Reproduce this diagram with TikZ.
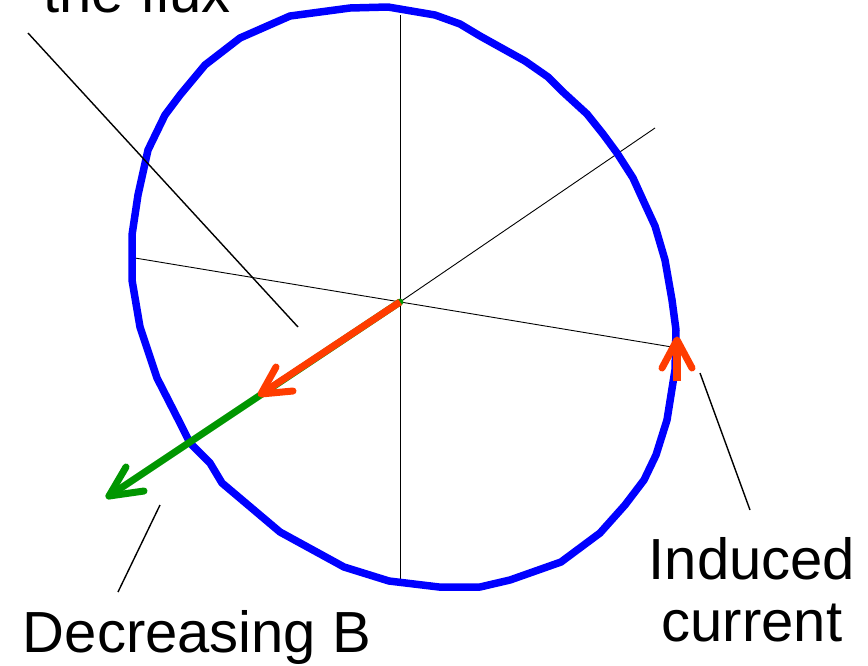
\documentclass[tikz,border=0pt]{standalone}
\usepackage{fontspec}
\setmainfont{Liberation Sans}
\usetikzlibrary{calc}
\definecolor{loopblue}{RGB}{0,0,255}
\definecolor{flowred}{RGB}{255,60,0}
\definecolor{fieldgreen}{RGB}{0,150,0}
\begin{document}
\begin{tikzpicture}[x=1pt,y=-1pt,
  spoke/.style={black,line width=0.9pt},
  pointer/.style={black,line width=1.4pt},
  loopline/.style={loopblue,line width=7.5pt,line join=round},
  arrowline/.style={line width=7pt,line cap=round,line join=round},
  lbl/.style={inner sep=0pt,font=\fontsize{58}{63}\selectfont}]
\useasboundingbox[fill=white] (0,0) rectangle (868,665);
% spokes
\coordinate (c) at (400,302);
\coordinate (vtop) at (400,15);
\coordinate (vbot) at (400,580);
\coordinate (hl) at (135,258);
\coordinate (hr) at (678,348);
\coordinate (dur) at (655,128);
\draw[spoke] (vtop) -- (vbot);
\draw[spoke] (hl) -- (hr);
\draw[spoke] (c) -- (dur);
% loop
\draw[loopline] (350,8) -- (388,7) -- (435,15) -- (460,24) -- (480,36) -- (525,61)
  -- (548,77) -- (563,92) -- (587,114) -- (603,134) -- (617,153) -- (633,178)
  -- (643,200) -- (655,226) -- (665,260) -- (672,300) -- (676,330) -- (675,370)
  -- (667,420) -- (656,455) -- (644,480) -- (625,505) -- (600,533) -- (561,562)
  -- (510,580) -- (480,587) -- (439,587) -- (389,581) -- (344,567) -- (280,532)
  -- (222,483) -- (210,463) -- (190,443) -- (180,423) -- (157,378) -- (140,327)
  -- (132,280) -- (132,235) -- (138,195) -- (148,150) -- (165,115) -- (180,95)
  -- (205,65) -- (240,38) -- (290,16) -- cycle;
% field arrow (green) and flux arrow (red)
\coordinate (gt) at (109,496);
\coordinate (rt) at (261,394);
\draw[arrowline,fieldgreen] (c) -- (gt);
\draw[arrowline,fieldgreen] ($(gt)+(17,-29)$) -- (gt) -- ($(gt)+(35,-5)$);
\draw[arrowline,flowred,line cap=butt] (c) -- (rt);
\draw[arrowline,flowred] ($(rt)+(15,-27)$) -- (rt) -- ($(rt)+(32,-3)$);
% induced current arrow
\coordinate (it) at (677,340);
\coordinate (ib) at (677,381);
\draw[arrowline,flowred,line cap=butt,line width=8pt] (ib) -- (it);
\draw[arrowline,flowred] ($(it)+(-15,28)$) -- (it) -- ($(it)+(15,28)$);
% labels and pointers
\node[lbl,anchor=base] (flux) at (137,12) {the flux};
\coordinate (fp1) at (28,33);
\coordinate (fp2) at (298,327);
\draw[pointer] (fp1) -- (fp2);
\node[lbl,anchor=base] (decB) at (197,652) {Decreasing B};
\coordinate (dp1) at (160,505);
\coordinate (dp2) at (118,592);
\draw[pointer] (dp1) -- (dp2);
\node[lbl,anchor=base] (ind) at (752,579) {Induced};
\node[lbl,anchor=base] (cur) at (752,641) {current};
\coordinate (ip1) at (700,373);
\coordinate (ip2) at (750,510);
\draw[pointer] (ip1) -- (ip2);
\end{tikzpicture}
\end{document}
